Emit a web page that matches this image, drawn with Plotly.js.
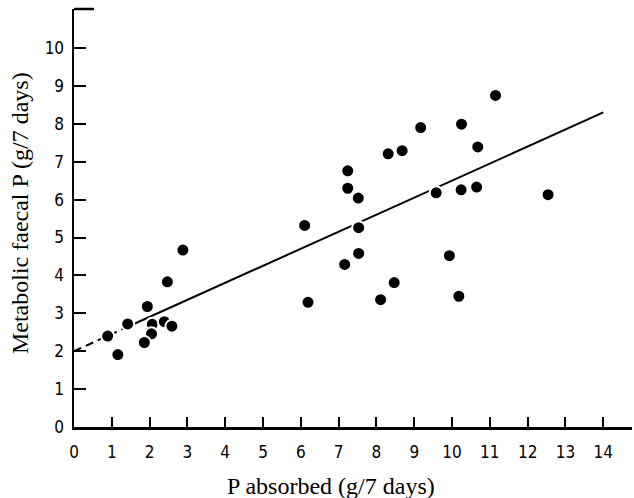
<!DOCTYPE html>
<html>
<head>
<meta charset="utf-8">
<script src="https://cdn.plot.ly/plotly-3.0.1.min.js"></script>
<style>html,body{margin:0;padding:0;background:#fff;}#chart{width:634px;height:498px;}</style>
</head>
<body>
<div id="chart"></div>
<script>
// Observed points (P absorbed, metabolic faecal P), g/7 days
const pAbsorbed = [0.89, 1.16, 1.42, 1.94, 2.07, 2.05, 1.86, 2.39, 2.59, 2.47, 2.88,
  6.10, 6.19, 7.24, 7.24, 7.52, 7.53, 7.53, 7.16, 8.11, 8.47, 8.31, 8.68, 9.17,
  9.58, 9.93, 10.18, 10.24, 10.25, 10.65, 10.68, 11.15, 12.54];
const metabolicP = [2.40, 1.91, 2.72, 3.18, 2.71, 2.46, 2.23, 2.78, 2.66, 3.83, 4.67,
  5.32, 3.29, 6.76, 6.30, 6.04, 5.26, 4.58, 4.29, 3.36, 3.81, 7.21, 7.29, 7.90,
  6.18, 4.52, 3.45, 6.26, 7.99, 6.33, 7.39, 8.75, 6.13];

// Fitted regression line: dashed extrapolated part and solid part
const fitDashX = [0, 1.7];
const fitDashY = [2.0, 2.77];
const fitSolidX = [1.7, 14];
const fitSolidY = [2.77, 8.30];

const xTicks = [0,1,2,3,4,5,6,7,8,9,10,11,12,13,14];
const yTicks = [0,1,2,3,4,5,6,7,8,9,10];

const xTitle = 'P absorbed (g/7 days)';
const yTitle = 'Metabolic faecal P (g/7 days)';

const traces = [
  {x: fitDashX, y: fitDashY, mode: 'lines', line: {color: '#000', width: 2, dash: '8px,5px'}, hoverinfo: 'skip'},
  {x: fitSolidX, y: fitSolidY, mode: 'lines', line: {color: '#000', width: 2}, hoverinfo: 'skip'},
  {x: pAbsorbed, y: metabolicP, mode: 'markers',
   marker: {color: '#000', size: 13, line: {color: '#fff', width: 2}}}
];

const tickFont = {family: 'Liberation Sans Narrow, DejaVu Sans Condensed, sans-serif', size: 17, color: '#000'};
const titleFont = {family: 'Liberation Serif, DejaVu Serif, serif', size: 24, color: '#000'};

const layout = {
  width: 634, height: 498,
  margin: {l: 74, r: 2, t: 9, b: 71},
  paper_bgcolor: '#fff', plot_bgcolor: '#fff',
  showlegend: false,
  xaxis: {
    range: [0, 14.76], tickvals: xTicks, ticktext: xTicks.map(String),
    ticks: 'inside', ticklen: 10, tickwidth: 2, tickcolor: '#000',
    showline: true, linecolor: '#000', linewidth: 2.5,
    showgrid: false, zeroline: false, ticklabelstandoff: 8,
    tickfont: tickFont
  },
  yaxis: {
    range: [0, 11.03], tickvals: yTicks, ticktext: yTicks.map(String),
    ticks: 'inside', ticklen: 12, tickwidth: 2, tickcolor: '#000',
    showline: true, linecolor: '#000', linewidth: 2.5,
    showgrid: false, zeroline: false, ticklabelstandoff: 4,
    tickfont: tickFont
  },
  annotations: [
    {text: xTitle, xref: 'paper', yref: 'paper', x: 0.46, y: -0.142,
     xanchor: 'center', yanchor: 'middle', showarrow: false, font: titleFont},
    {text: yTitle, xref: 'paper', yref: 'paper', x: -0.0977, y: 0.513, textangle: -90,
     xanchor: 'center', yanchor: 'middle', showarrow: false, font: titleFont}
  ],
  shapes: [
    {type: 'line', xref: 'paper', yref: 'paper', x0: 0, x1: 0.036, y0: 1, y1: 1,
     line: {color: '#000', width: 2.5}}
  ]
};

Plotly.newPlot('chart', traces, layout, {displayModeBar: false, staticPlot: true});
</script>
</body>
</html>
